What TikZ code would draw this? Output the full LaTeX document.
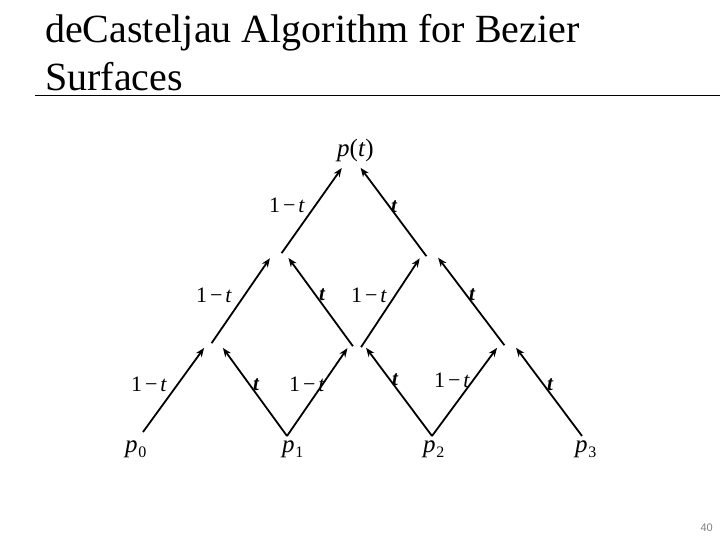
\documentclass[tikz,border=0pt]{standalone}
\usepackage{fontspec}
\setmainfont{Liberation Serif}
\newfontfamily\pagenumfont{Liberation Sans}
\usetikzlibrary{arrows.meta}
\newcommand{\omt}{1\hspace{0.13em}−\hspace{0.13em}\textit{t}}
\newcommand{\psub}[1]{\textit{p}\hspace{0.03em}\raisebox{-0.22em}{\fontsize{16}{16}\selectfont #1}}
\begin{document}
\begin{tikzpicture}[x=1pt,y=-1pt,
  edge/.style={line width=1.8pt, -{Stealth[length=9pt,width=7pt]}, shorten >=16pt, shorten <=1pt},
  wt/.style={font=\fontsize{22}{26}\selectfont, inner sep=0pt, anchor=base west},
  tw/.style={font=\fontsize{21}{24}\selectfont\bfseries\itshape, inner sep=0pt},
  plab/.style={font=\fontsize{25}{30}\selectfont, inner sep=0pt, anchor=base west},
  title/.style={font=\fontsize{40}{48}\selectfont, inner sep=0pt, anchor=base west}]
\useasboundingbox (0,0) rectangle (720,540);
% title
\node[title] (t1) at (45,43) {deCasteljau Algorithm for Bezier};
\node[title] (t2) at (45,91) {Surfaces};
\draw[line width=1pt] (35,96) -- (720,96);
% bottom starts
\coordinate (b0) at (143,432);
\coordinate (b1) at (287,436);
\coordinate (b2) at (432,436);
\coordinate (b3) at (582,436);
% level 1: meeting points and start points
\coordinate (m0) at (213.5,335);
\coordinate (m1) at (356.5,335);
\coordinate (m2) at (506.5,335);
\coordinate (o0) at (211,344);
\coordinate (o1l) at (353.5,347);
\coordinate (o1r) at (360.5,348);
\coordinate (o2) at (505,346);
% level 2
\coordinate (u0) at (279,245);
\coordinate (u1) at (428.5,245);
\coordinate (ou0) at (281,254);
\coordinate (ou1) at (427,257);
% top
\coordinate (top) at (351,155);
% labels of points
\node[plab] (p0) at (125,452) {\psub{0}};
\node[plab] (p1) at (282,452) {\psub{1}};
\node[plab] (p2) at (423,452) {\psub{2}};
\node[plab] (p3) at (575,452) {\psub{3}};
\node[plab] (pt) at (337,157) {\textit{p}(\textit{t})};
% edges
\draw[edge, shorten <=0pt] (b0) -- (m0);
\draw[edge, shorten <=0pt] (b1) -- (m0);
\draw[edge, shorten <=0pt] (b1) -- (m1);
\draw[edge, shorten <=0pt] (b2) -- (m1);
\draw[edge, shorten <=0pt] (b2) -- (m2);
\draw[edge, shorten <=0pt] (b3) -- (m2);
\draw[edge] (o0) -- (u0);
\draw[edge] (o1l) -- (u0);
\draw[edge] (o1r) -- (u1);
\draw[edge] (o2) -- (u1);
\draw[edge] (ou0) -- (top);
\draw[edge] (ou1) -- (top);
% weights 1-t
\node[wt] (w1) at (131,391) {\omt};
\node[wt] (w2) at (289,391) {\omt};
\node[wt] (w3) at (434,387) {\omt};
\node[wt] (w4) at (196,302) {\omt};
\node[wt] (w5) at (351,302) {\omt};
\node[wt] (w6) at (269,212) {\omt};
% weights t
\node[tw] (s1) at (394,207) {t};
\node[tw] (s2) at (322,295) {t};
\node[tw] (s3) at (472,295) {t};
\node[tw] (s4) at (256,385) {t};
\node[tw] (s5) at (395,380) {t};
\node[tw] (s6) at (550,385) {t};
% page number
\node[anchor=base east, font=\pagenumfont\fontsize{11}{13}\selectfont, text=gray, inner sep=0pt] (pg) at (713,531) {40};
\end{tikzpicture}
\end{document}
